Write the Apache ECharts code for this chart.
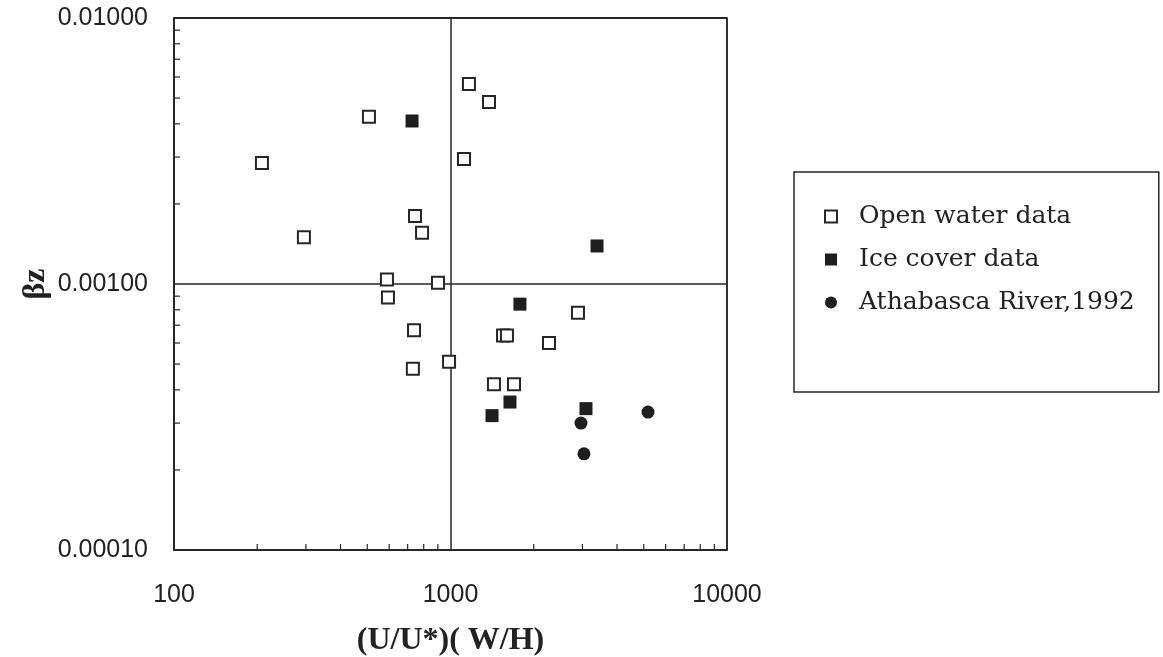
<!DOCTYPE html>
<html>
<head>
<meta charset="utf-8">
<script src="https://cdn.jsdelivr.net/npm/echarts@6/dist/echarts.min.js"></script>
<style>
html,body{margin:0;padding:0;background:#fff;}
#chart{width:1163px;height:657px;}
</style>
</head>
<body>
<div id="chart"></div>
<script>
// ---- Data ----
var seriesNames = ['Open water data', 'Ice cover data', 'Athabasca River,1992'];
var openWater = [
  [208, 0.00285], [295, 0.00150], [507, 0.00425], [744, 0.00180], [789, 0.00156],
  [589, 0.00104], [594, 0.00089], [738, 0.00067], [731, 0.00048], [901, 0.00101],
  [988, 0.00051], [1166, 0.00565], [1378, 0.00483], [1119, 0.00295], [2891, 0.00078],
  [2271, 0.00060], [1549, 0.00064], [1600, 0.00064], [1436, 0.00042], [1697, 0.00042]
];
var iceCover = [
  [726, 0.00410], [3388, 0.00139], [1783, 0.00084], [1641, 0.00036], [1413, 0.00032], [3090, 0.00034]
];
var athabasca = [
  [5180, 0.00033], [2965, 0.00030], [3039, 0.00023]
];
var xMinorTicks = [200, 300, 400, 500, 600, 700, 800, 900, 2000, 3000, 4000, 5000, 6000, 7000, 8000, 9000];
var yMinorTicks = [0.0002, 0.0003, 0.0004, 0.0005, 0.0006, 0.0007, 0.0008, 0.0009,
                   0.002, 0.003, 0.004, 0.005, 0.006, 0.007, 0.008, 0.009];
var xRange = [100, 10000];
var yRange = [0.0001, 0.01];
var xTitle = '(U/U*)( W/H)';
var yTitle = 'βz';

var ink = '#262626';
var chart = echarts.init(document.getElementById('chart'), null, {renderer: 'canvas'});

function tickSeries(values, isX) {
  return {
    type: 'custom',
    silent: true,
    z: 5,
    data: values.map(function (v) { return isX ? [v, yRange[0]] : [xRange[0], v]; }),
    renderItem: function (params, api) {
      var p = api.coord([api.value(0), api.value(1)]);
      var len = 6;
      return {
        type: 'line',
        shape: isX ? {x1: p[0], y1: p[1], x2: p[0], y2: p[1] - len}
                   : {x1: p[0], y1: p[1], x2: p[0] + len, y2: p[1]},
        style: {stroke: ink, lineWidth: 1.2}
      };
    }
  };
}

var option = {
  backgroundColor: '#ffffff',
  animation: false,
  grid: {
    left: 174, right: 436, top: 18, bottom: 107,
    outerBoundsMode: 'none', containLabel: false,
    show: true, borderColor: ink, borderWidth: 1.5, backgroundColor: 'transparent'
  },
  legend: {
    data: seriesNames,
    orient: 'vertical',
    left: 794, top: 172,
    padding: [32, 24, 77, 30],
    itemGap: 18,
    itemWidth: 12, itemHeight: 12,
    borderColor: ink, borderWidth: 1.5,
    textStyle: {fontFamily: 'DejaVu Serif', fontSize: 25, color: '#222', padding: [0, 0, 0, 17]}
  },
  xAxis: {
    type: 'log', logBase: 10, min: xRange[0], max: xRange[1],
    name: xTitle, nameLocation: 'middle', nameGap: 75,
    nameTextStyle: {fontFamily: 'Liberation Serif', fontWeight: 'bold', fontSize: 32, color: '#222'},
    axisLine: {show: true, lineStyle: {color: ink, width: 1.5}},
    axisTick: {show: false},
    splitLine: {show: true, lineStyle: {color: ink, width: 1.5}},
    axisLabel: {
      margin: 33, fontFamily: 'Liberation Sans', fontSize: 25, color: '#222',
      formatter: function (v) { return String(Math.round(v)); }
    }
  },
  yAxis: {
    type: 'log', logBase: 10, min: yRange[0], max: yRange[1],
    name: yTitle, nameLocation: 'middle', nameGap: 122, nameRotate: 90,
    nameTextStyle: {fontFamily: 'Liberation Serif', fontWeight: 'bold', fontSize: 32, color: '#222'},
    axisLine: {show: true, lineStyle: {color: ink, width: 1.5}},
    axisTick: {show: false},
    splitLine: {show: true, lineStyle: {color: ink, width: 1.5}},
    axisLabel: {
      margin: 26, fontFamily: 'Liberation Sans', fontSize: 25, color: '#222',
      formatter: function (v) { return Number(v).toFixed(5); }
    }
  },
  series: [
    {
      name: seriesNames[0], type: 'scatter', data: openWater, z: 10,
      symbol: 'rect', symbolSize: 12,
      itemStyle: {color: '#ffffff', borderColor: ink, borderWidth: 2, opacity: 1}
    },
    {
      name: seriesNames[1], type: 'scatter', data: iceCover, z: 11,
      symbol: 'rect', symbolSize: 13,
      itemStyle: {color: '#1e1e1e', opacity: 1}
    },
    {
      name: seriesNames[2], type: 'scatter', data: athabasca, z: 11,
      symbol: 'circle', symbolSize: 13,
      itemStyle: {color: '#1e1e1e', opacity: 1}
    },
    tickSeries(xMinorTicks, true),
    tickSeries(yMinorTicks, false)
  ]
};
chart.setOption(option);
</script>
</body>
</html>
